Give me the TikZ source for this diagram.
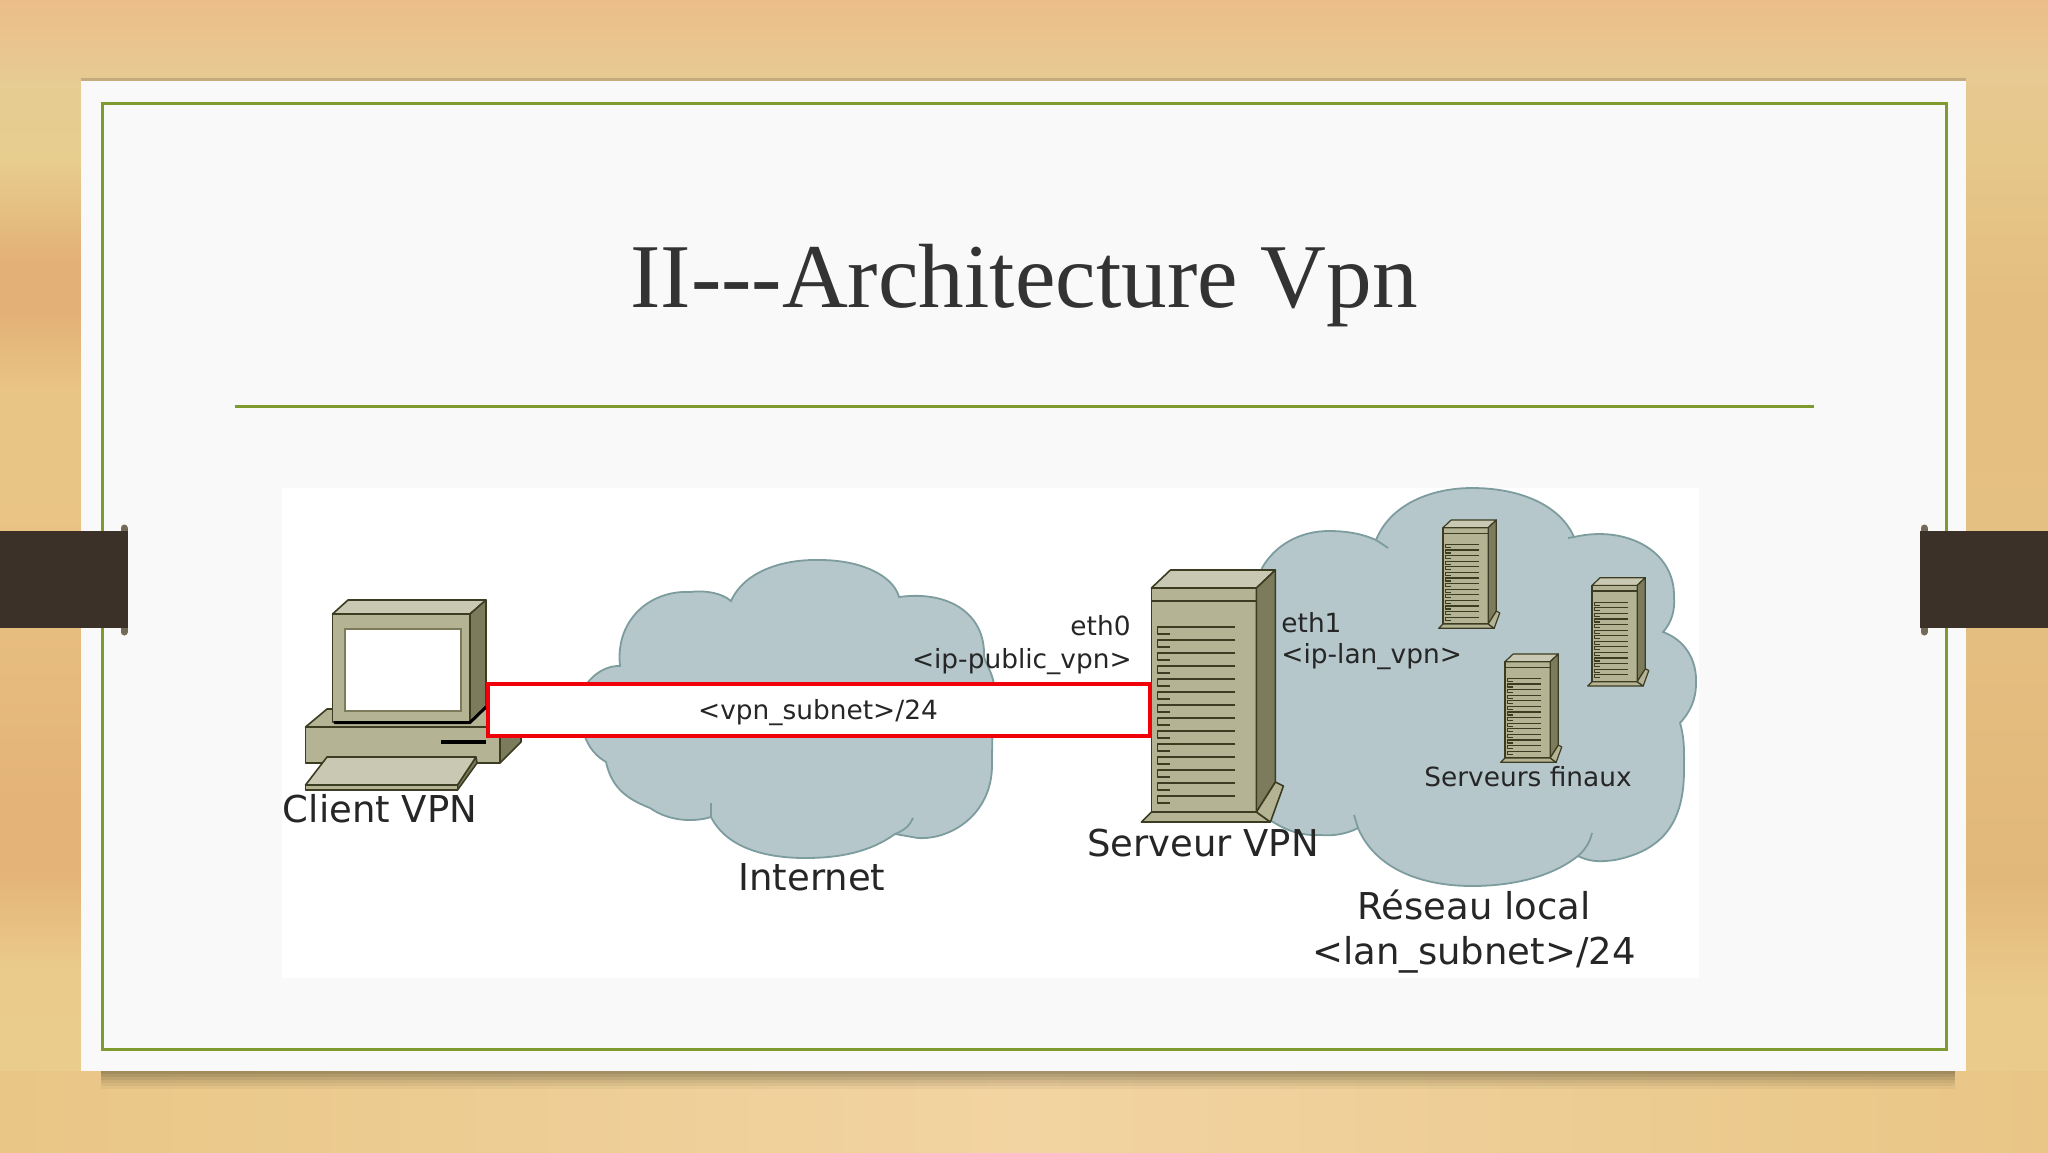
\documentclass[tikz,border=0pt]{standalone}
\usepackage{fontspec}
\setmainfont{DejaVu Sans}
\newfontfamily\titlefont{Liberation Serif}
\definecolor{slidewhite}{HTML}{F9F9FA}
\definecolor{framegreen}{HTML}{7F9A2E}
\definecolor{bandbrown}{HTML}{3B3129}
\definecolor{capbrown}{HTML}{75695A}
\definecolor{cloudblue}{HTML}{B5C7CB}
\definecolor{cloudedge}{HTML}{7D9C9E}
\definecolor{hwfront}{HTML}{B4B394}
\definecolor{hwtop}{HTML}{C9C9B3}
\definecolor{hwside}{HTML}{7C7C5C}
\definecolor{hwline}{HTML}{3C3C22}
\definecolor{tunnelred}{HTML}{F00008}
\definecolor{woodtopA}{HTML}{ECBD88}
\definecolor{woodtopB}{HTML}{E7CB93}
\definecolor{woodlow}{HTML}{E9C686}
\definecolor{woodmid}{HTML}{F2D4A2}
\pgfdeclareverticalshading{woodleft}{100bp}{rgb(0bp)=(0.918,0.804,0.553); rgb(25bp)=(0.918,0.804,0.553); rgb(32.9bp)=(0.918,0.796,0.549); rgb(37.2bp)=(0.894,0.702,0.467); rgb(40.3bp)=(0.894,0.702,0.467); rgb(53.5bp)=(0.914,0.773,0.522); rgb(57.9bp)=(0.914,0.773,0.522); rgb(61.4bp)=(0.890,0.694,0.467); rgb(63.7bp)=(0.890,0.694,0.467); rgb(68.1bp)=(0.906,0.804,0.557); rgb(75bp)=(0.910,0.792,0.596); rgb(100bp)=(0.910,0.792,0.596)}
\pgfdeclareverticalshading{woodright}{100bp}{rgb(0bp)=(0.918,0.796,0.549); rgb(25bp)=(0.918,0.796,0.549); rgb(31.6bp)=(0.918,0.796,0.549); rgb(36.8bp)=(0.886,0.722,0.478); rgb(52bp)=(0.898,0.753,0.514); rgb(62bp)=(0.894,0.745,0.502); rgb(68.1bp)=(0.902,0.784,0.541); rgb(75bp)=(0.910,0.792,0.596); rgb(100bp)=(0.910,0.792,0.596)}
\tikzset{
  hw/.style={draw=hwline,line width=0.8pt,line join=round},
  cloudshape/.style={draw=cloudedge,fill=cloudblue,line width=0.9pt},
  cloudtail/.style={draw=cloudedge,line width=0.9pt},
  biglabel/.style={anchor=base,text=black!85,font=\fontsize{18.5}{22}\selectfont,inner sep=0pt},
  smalllabel/.style={text=black!85,font=\fontsize{13.2}{16}\selectfont,inner sep=0pt},
  tunnelbox/.style={draw=tunnelred,fill=white,line width=2pt,minimum width=331pt,minimum height=26pt,inner sep=0pt}
}
\newcommand{\drawserver}[4]{%
  \begin{scope}[shift={(#1,#2)},scale=#3]
    \filldraw [hw,fill=hwfront,line width=#4] (0,0) -- (105,0) -- (105,-224) -- (0,-224) -- cycle;
    \filldraw [hw,fill=hwtop,line width=#4] (0,-224) -- (19,-242) -- (124,-242) -- (105,-224) -- cycle;
    \filldraw [hw,fill=hwside,line width=#4] (105,-224) -- (124,-242) -- (124,-30) -- (105,0) -- cycle;
    \filldraw [hw,fill=hwfront,line width=#4] (0,0) -- (-10,10) -- (119,10) -- (105,0) -- cycle;
    \filldraw [hw,fill=hwfront,line width=#4] (105,0) -- (124,-30) -- (132,-26) -- (119,10) -- cycle;
    \draw [hw,line width=#4] (0,-211) -- (105,-211);
    \foreach \i in {0,...,13} {
      \draw [hw,line width=#4] (84,-185+13*\i) -- (6,-185+13*\i) -- (6,-178+13*\i) -- (19,-178+13*\i);
    }
  \end{scope}
}
\begin{document}
\begin{tikzpicture}[x=0.5pt,y=-0.5pt]
  \useasboundingbox (0,0) rectangle (2048,1152);
  \shade [shading=woodleft] (0,0) rectangle (1100,1152);
  \shade [shading=woodright] (1100,0) rectangle (2048,1152);
  \shade [top color=woodtopA,bottom color=woodtopB] (0,0) rectangle (2048,81);
  \shade [left color=woodlow,right color=woodlow,middle color=woodmid] (0,1071) rectangle (2048,1152);
  \foreach \d/\o in {18/0.06,15/0.07,12/0.08,9/0.10,6/0.12,3/0.14} {
    \fill [black!60!olive,opacity=\o] (101,1000) rectangle (1955,1071+\d);
  }
  \fill [black,opacity=0.15] (81,78) rectangle (1966,81);
  \fill [slidewhite] (81,81) rectangle (1966,1071);
  \draw [framegreen,line width=1.5pt] (102,103) rectangle (1946,1049);
  \draw [framegreen,line width=1.2pt] (235,406.5) -- (1814,406.5);
  \node (title) [anchor=base,inner sep=0pt,text=black!80,font=\titlefont\fontsize{45.6}{50}\selectfont] at (1024,307) {II{-}{-}{-}Architecture Vpn};
  \fill [white] (282,488) rectangle (1699,978);
  \draw [capbrown,line width=3.5pt,line cap=round] (124,528) -- (124,632);
  \draw [capbrown,line width=3.5pt,line cap=round] (1924,528) -- (1924,632);
  \fill [bandbrown] (0,531) rectangle (128,628);
  \fill [bandbrown] (1920,531) rectangle (2048,628);
  \filldraw [cloudshape] (731,601) .. controls (745,570) and (785,559) .. (820,560) .. controls (860,560) and (893,575) .. (899,597)
    .. controls (950,590) and (985,615) .. (984,655) .. controls (984,662) and (992,670) .. (994,685)
    .. controls (993,720) and (992,740) .. (992,765) .. controls (992,815) and (950,840) .. (918,838) -- (895,834)
    .. controls (870,852) and (840,858) .. (805,858) .. controls (760,858) and (725,845) .. (711,817)
    .. controls (695,822) and (670,822) .. (650,808) .. controls (630,800) and (612,790) .. (606,762)
    .. controls (585,750) and (578,725) .. (582,700) .. controls (580,685) and (600,665) .. (620,666)
    .. controls (615,620) and (650,590) .. (690,592) .. controls (705,590) and (722,593) .. (731,601) -- cycle;
  \draw [cloudtail] (895,834) .. controls (905,830) and (910,825) .. (913,818);
  \draw [cloudtail] (711,817) -- (711,803);
  \filldraw [cloudshape] (1262,568) .. controls (1275,545) and (1300,531) .. (1329,531) .. controls (1350,531) and (1365,535) .. (1376,540)
    .. controls (1390,505) and (1430,488) .. (1472,488) .. controls (1520,488) and (1560,505) .. (1574,537)
    .. controls (1625,525) and (1675,550) .. (1674,597) .. controls (1675,610) and (1672,622) .. (1663,632)
    .. controls (1685,640) and (1697,660) .. (1696,683) .. controls (1696,700) and (1690,712) .. (1680,723)
    .. controls (1685,740) and (1684,755) .. (1684,770) .. controls (1684,820) and (1665,850) .. (1615,860)
    .. controls (1600,862) and (1590,862) .. (1578,856)
    .. controls (1550,878) and (1510,886) .. (1472,886) .. controls (1420,886) and (1375,868) .. (1358,828)
    .. controls (1345,835) and (1330,836) .. (1321,835) .. controls (1300,836) and (1285,830) .. (1270,820) -- cycle;
  \draw [cloudtail] (1578,856) .. controls (1585,850) and (1590,842) .. (1592,833);
  \draw [cloudtail] (1358,828) -- (1354,815);
  \draw [cloudtail] (1376,540) -- (1388,548);
  \draw [cloudtail] (1574,537) -- (1568,538);
  \filldraw [hw,fill=hwfront] (305.5,727) -- (327,709) -- (521,709) -- (500,727) -- cycle;
  \filldraw [hw,fill=hwside] (500,727) -- (521,709) -- (521,742) -- (500,763) -- cycle;
  \filldraw [hw,fill=hwfront] (305.5,727) rectangle (500,763);
  \fill [black] (441,740) rectangle (486,744);
  \filldraw [hw,fill=hwfront] (332.5,614) rectangle (470,722);
  \filldraw [hw,fill=hwtop] (332.5,614) -- (348,600) -- (486,600) -- (470,614) -- cycle;
  \filldraw [hw,fill=hwside] (470,614) -- (486,600) -- (486,707) -- (470,722) -- cycle;
  \filldraw [draw=hwside,fill=white,line width=0.8pt] (345,629) rectangle (461,711);
  \draw [black,line width=1.5pt] (334,722.5) -- (470,722.5) -- (486,707);
  \filldraw [hw,fill=hwside] (476,757) -- (477,763) -- (457.5,790) -- (457.5,785) -- cycle;
  \filldraw [hw,fill=hwtop] (327,757) -- (476,757) -- (457.5,785) -- (305.5,785) -- cycle;
  \filldraw [hw,fill=hwfront] (305.5,785) rectangle (457.5,790);
  \drawserver{1151.4}{812}{1}{0.8pt}
  \drawserver{1443}{624}{0.43}{0.6pt}
  \drawserver{1592}{681.7}{0.43}{0.6pt}
  \drawserver{1505}{758}{0.43}{0.6pt}
  \node (tunnel) [tunnelbox] at (819,709.5) {};
  \node (tunnellabel) [smalllabel,anchor=base] at (818,719.5) {<vpn\_subnet>/24};
  \node (client) [biglabel] at (380,822) {Client VPN};
  \node (internet) [biglabel] at (812,890) {Internet};
  \node (serveur) [biglabel] at (1203,856) {Serveur VPN};
  \node (reseau) [biglabel] at (1474,919) {Réseau local};
  \node (lansubnet) [biglabel] at (1474,964) {<lan\_subnet>/24};
  \node (ethzero) [smalllabel,anchor=base east] at (1131,635) {eth0};
  \node (ippublic) [smalllabel,anchor=base east] at (1132,668) {<ip-public\_vpn>};
  \node (ethone) [smalllabel,anchor=base west] at (1281,632) {eth1};
  \node (iplan) [smalllabel,anchor=base west] at (1281,663) {<ip-lan\_vpn>};
  \node (finaux) [smalllabel,anchor=base] at (1528,786) {Serveurs finaux};
\end{tikzpicture}
\end{document}
